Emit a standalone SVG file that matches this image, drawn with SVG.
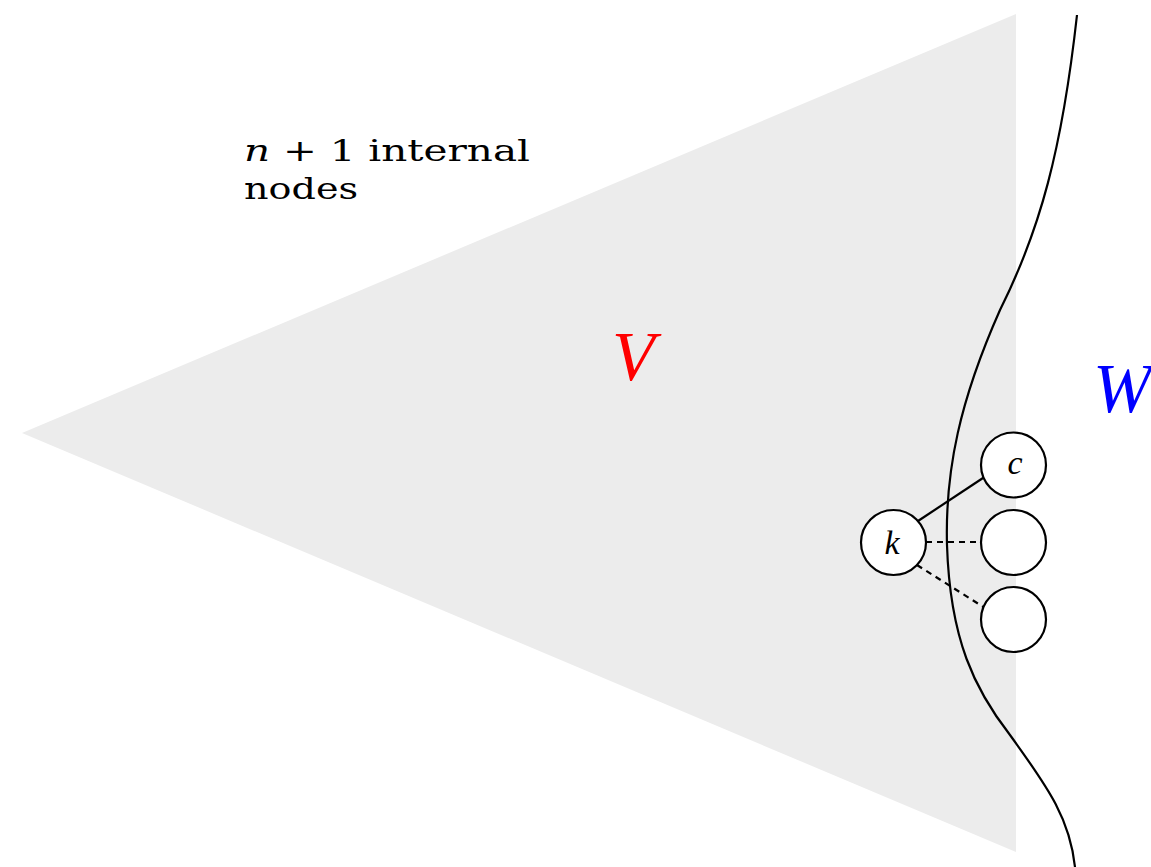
<svg xmlns="http://www.w3.org/2000/svg" width="1151" height="867" viewBox="0 0 1151 867">
<style>
.node circle{fill:#fff;stroke:#000;stroke-width:2.2}
.lbl{font-family:"Liberation Serif",serif;font-style:italic;font-size:34px;text-anchor:middle}
.edge{stroke:#000;stroke-width:2.2;fill:none}
.dash{stroke-dasharray:6,5}
</style>
<rect width="1151" height="867" fill="#fff"/>
<polygon id="tree" points="22,433 1016,14 1016,852" fill="#ececec"/>
<text id="label-internal" font-family="'DejaVu Serif',serif" font-size="29" fill="#000"><tspan x="244" y="161" textLength="286" lengthAdjust="spacingAndGlyphs"><tspan font-style="italic">n</tspan> + 1 internal</tspan><tspan x="244" y="199" textLength="114" lengthAdjust="spacingAndGlyphs">nodes</tspan></text>
<text id="label-V" x="612" y="380" font-family="'Liberation Serif',serif" font-style="italic" font-size="70" fill="#ff0000">V</text>
<text id="label-W" x="1093" y="412" font-family="'Liberation Serif',serif" font-style="italic" font-size="70" fill="#0000ff">W</text>
<path id="boundary" class="edge" d="M1077,15 C1062,150 1040,230 1000,310 C960,400 945,470 947,545 C950,640 975,690 1010,735 C1050,790 1070,820 1075,867"/>
<g id="connectors">
<line class="edge" x1="918" y1="521" x2="986" y2="476"/>
<line class="edge dash" x1="926" y1="542" x2="981" y2="542"/>
<line class="edge dash" x1="917" y1="565" x2="985" y2="608"/>
</g>
<g id="node-k" class="node"><circle cx="893.5" cy="542.5" r="32.5"/><text class="lbl" x="892" y="554">k</text></g>
<g id="node-c" class="node"><circle cx="1013.5" cy="465" r="32.5"/><text class="lbl" x="1015" y="474">c</text></g>
<g id="node-2" class="node"><circle cx="1013.5" cy="542.5" r="32.5"/></g>
<g id="node-3" class="node"><circle cx="1013.5" cy="619.5" r="32.5"/></g>
</svg>
